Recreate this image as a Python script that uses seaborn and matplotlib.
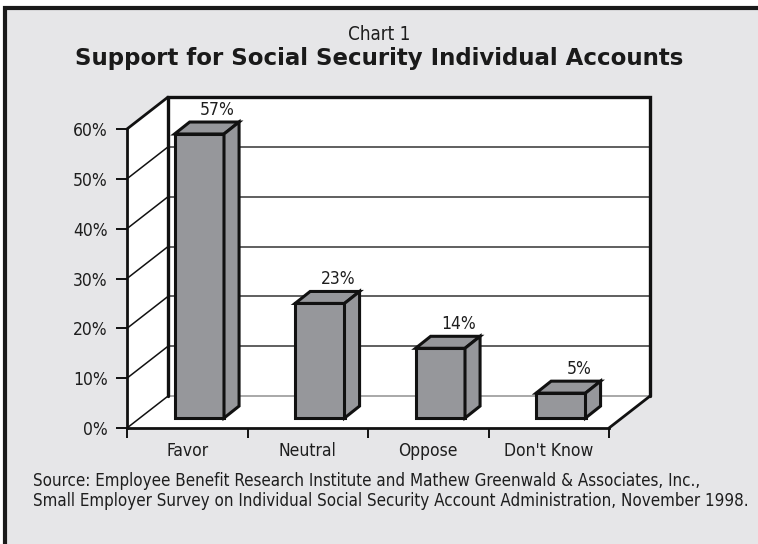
import matplotlib
matplotlib.use("Agg")
import matplotlib.pyplot as plt
from matplotlib import font_manager
from matplotlib.patches import Polygon, Rectangle
import pandas as pd
import seaborn as sns

categories = ["Favor", "Neutral", "Oppose", "Don't Know"]
values = [57, 23, 14, 5]
value_labels = ["57%", "23%", "14%", "5%"]
y_ticks = [0, 10, 20, 30, 40, 50, 60]
y_tick_labels = ["0%", "10%", "20%", "30%", "40%", "50%", "60%"]
chart_no = "Chart 1"
title = "Support for Social Security Individual Accounts"
source_lines = [
    "Source: Employee Benefit Research Institute and Mathew Greenwald & Associates, Inc.,",
    "Small Employer Survey on Individual Social Security Account Administration, November 1998.",
]

bg = "#e6e6e8"
bar_color = "#96979b"

sns.set_theme(style="white")
installed = {f.name for f in font_manager.fontManager.ttflist}
if "Liberation Sans Narrow" in installed:
    narrow = ["Liberation Sans Narrow", "DejaVu Sans"]
    stretch = "normal"
else:
    narrow = ["DejaVu Sans"]
    stretch = "condensed"
plt.rcParams["font.family"] = narrow
plt.rcParams["font.stretch"] = stretch

W, H = 758, 544
fig = plt.figure(figsize=(W / 100, H / 100), dpi=100, facecolor="white")

# frame with gray fill
fig.patches.append(Rectangle((5 / W, -0.1), 1.2, (H - 8) / H + 0.1,
                             transform=fig.transFigure, facecolor=bg,
                             edgecolor="#1a1a1a", lw=3, zorder=-10))

# front plane of the 3d box: x -0.5..3.5, y 0..60
ax = fig.add_axes([127 / W, (H - 428) / H, 482 / W, 299 / H])
ax.patch.set_alpha(0)

df = pd.DataFrame({"answer": categories, "share": values})
sns.barplot(data=df, x="answer", y="share", ax=ax, color=bar_color,
            saturation=1, width=0.41, edgecolor="#111111", linewidth=2.2,
            zorder=5)

dx, dy = 0.34, 6.4        # depth of the box
bdx, bdy = 0.125, 2.4     # depth of each bar
shift, lift = 0.1, 2.0    # bars sit a little into the floor

bars = list(ax.patches)
for p, lab in zip(bars, value_labels):
    p.set_x(p.get_x() + shift)
    p.set_y(p.get_y() + lift)
    x0, y0, w, h = p.get_x(), p.get_y(), p.get_width(), p.get_height()
    top = [(x0, y0 + h), (x0 + w, y0 + h), (x0 + w + bdx, y0 + h + bdy), (x0 + bdx, y0 + h + bdy)]
    side = [(x0 + w, y0), (x0 + w + bdx, y0 + bdy), (x0 + w + bdx, y0 + h + bdy), (x0 + w, y0 + h)]
    for pts in (top, side):
        ax.add_patch(Polygon(pts, closed=True, facecolor=bar_color,
                             edgecolor="#111111", lw=2.2, zorder=5,
                             joinstyle="miter", clip_on=False))
    ax.text(x0 + w / 2 + 0.15, y0 + h + bdy + 0.6, lab, ha="center",
            va="bottom", fontsize=12.5, color="#1e1e1e", zorder=6)

# walls and floor
xl, xr = -0.5, 3.5
ax.add_patch(Rectangle((xl + dx, dy), xr - xl, 60, facecolor="white",
                       edgecolor="none", zorder=0.5, clip_on=False))
ax.add_patch(Polygon([(xl, 0), (xl, 60), (xl + dx, 60 + dy), (xl + dx, dy)],
                     facecolor="white", edgecolor="none", zorder=0.5, clip_on=False))
ax.add_patch(Polygon([(xl, 0), (xr, 0), (xr + dx, dy), (xl + dx, dy)],
                     facecolor="white", edgecolor="none", zorder=0.5, clip_on=False))

for v in y_ticks[:-1]:
    gc = "#9a9a9a" if v == 0 else "#444444"
    ax.plot([xl + dx, xr + dx], [v + dy, v + dy], color=gc, lw=1.2,
            zorder=1, clip_on=False)
    ax.plot([xl, xl + dx], [v, v + dy], color="#111111", lw=1.1,
            zorder=1, clip_on=False)
ax.plot([xl, xl + dx], [60, 60 + dy], color="#111111", lw=2, zorder=2, clip_on=False)
ax.plot([xl + dx, xl + dx, xr + dx, xr + dx], [dy, 60 + dy, 60 + dy, dy],
        color="#111111", lw=2.4, zorder=2, clip_on=False, solid_joinstyle="miter")
ax.plot([xr, xr + dx], [0, dy], color="#111111", lw=2, zorder=2, clip_on=False)

ax.set_xlim(xl, xr)
ax.set_ylim(0, 60)
for s in ("top", "right"):
    ax.spines[s].set_visible(False)
for s in ("left", "bottom"):
    ax.spines[s].set_color("#111111")
    ax.spines[s].set_linewidth(2)
    ax.spines[s].set_zorder(3)

ax.set_yticks(y_ticks, y_tick_labels)
ax.tick_params(axis="y", length=8, width=1.4, color="#111111", labelsize=12.5,
               labelcolor="#1e1e1e", pad=6, left=True)
ax.set_xticks([xl, 0.5, 1.5, 2.5, xr], [""] * 5)
ax.set_xticks([0, 1, 2, 3], categories, minor=True)
ax.tick_params(axis="x", which="major", length=7, width=1.4, color="#111111",
               bottom=True)
ax.tick_params(axis="x", which="minor", length=0, labelsize=12.5,
               labelcolor="#1e1e1e", pad=10)
ax.set_xlabel("")
ax.set_ylabel("")

fig.text(0.5, 1 - 35 / H, chart_no, ha="center", va="center", fontsize=13.5,
         color="#1e1e1e")
fig.text(0.5, 1 - 59 / H, title, ha="center", va="center", fontsize=16.5,
         fontweight="bold", family="DejaVu Sans", stretch="normal", color="#1a1a1a")
for i, line in enumerate(source_lines):
    fig.text(33 / W, 1 - (481 + 20 * i) / H, line, ha="left", va="center",
             fontsize=12.2, color="#1e1e1e")

fig.savefig("out.png", dpi=100, facecolor="white")
